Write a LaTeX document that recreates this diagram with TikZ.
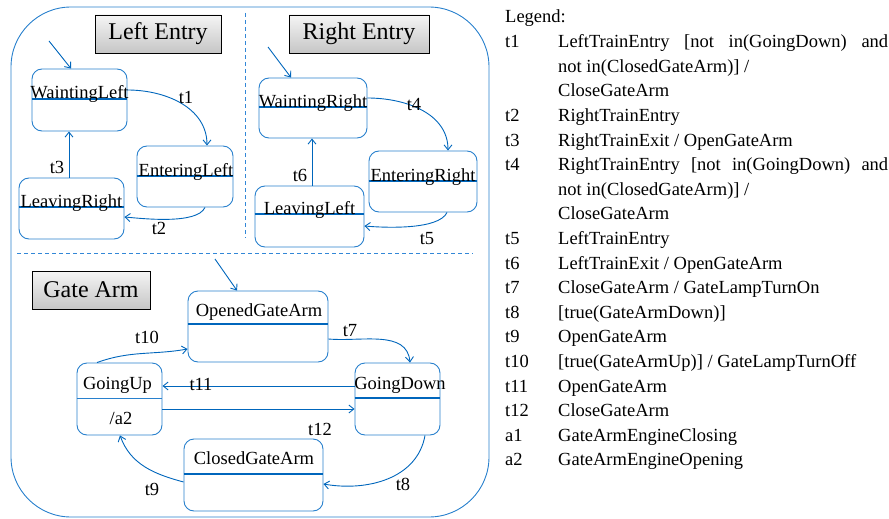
\documentclass[tikz,border=0pt]{standalone}
\usepackage{fontspec}
\setmainfont{Liberation Serif}
\usetikzlibrary{arrows.meta}

\definecolor{stateblue}{RGB}{40,128,205}
\definecolor{lineblue}{RGB}{0,102,188}
\definecolor{dashblue}{RGB}{50,135,215}

\tikzset{
    state/.style={draw=stateblue, line width=0.9pt, rounded corners=10pt, inner sep=0pt},
    statename/.style={anchor=base, inner sep=0pt, font=\fontsize{18.5}{22}\selectfont},
    divider/.style={draw=lineblue, line width=1.8pt},
    thindivider/.style={draw=stateblue, line width=0.8pt},
    trans/.style={draw=lineblue, line width=0.9pt, -{Straight Barb[length=5pt,width=8pt]}},
    tlabel/.style={inner sep=0pt, font=\fontsize{18.5}{22}\selectfont},
    region/.style={draw=black, line width=0.8pt, top color=gray!8, bottom color=gray!45, inner sep=0pt, font=\fontsize{24}{28}\selectfont},
    dashline/.style={draw=dashblue, line width=1pt, dash pattern=on 4pt off 3pt},
    legkey/.style={anchor=base west, inner sep=0pt, font=\fontsize{18.5}{22}\selectfont},
    legtext/.style={anchor=base west, inner sep=0pt, font=\fontsize{18.5}{22}\selectfont},
}

\begin{document}
\begin{tikzpicture}[x=1pt, y=1pt]
    \useasboundingbox (0,0) rectangle (889,-519);

    % outer state and its regions
    \node[draw=stateblue, line width=0.9pt, rounded corners=60pt, minimum width=478, minimum height=510, inner sep=0pt] (crossing) at (250,-262) {};
    \draw[dashline] (245,-13) -- (245,-238);
    \draw[dashline] (17,-253) -- (473,-253);

    \node[region, minimum width=126, minimum height=38] (lefttitle) at (158,-34) {Left Entry};
    \node[region, minimum width=140, minimum height=38] (righttitle) at (359,-34) {Right Entry};
    \node[region, minimum width=118, minimum height=38] (gatetitle) at (91,-290) {Gate Arm};

    % Left Entry
    \node[state, minimum width=95, minimum height=62] (wl) at (79.5,-100) {};
    \draw[divider] (wl.west |- 0,-99) -- (wl.east |- 0,-99);
    \node[statename] (wlt) at (79.5,-99) {WaintingLeft};

    \node[state, minimum width=96, minimum height=61] (el) at (185,-176.5) {};
    \draw[divider] (el.west |- 0,-176) -- (el.east |- 0,-176);
    \node[statename] (elt) at (186,-176) {EnteringLeft};

    \node[state, minimum width=105, minimum height=61] (lr) at (71.5,-208.5) {};
    \draw[divider] (lr.west |- 0,-207) -- (lr.east |- 0,-207);
    \node[statename] (lrt) at (71.5,-207) {LeavingRight};

    % Right Entry
    \node[state, minimum width=108, minimum height=60] (wr) at (313,-108) {};
    \draw[divider] (wr.west |- 0,-107) -- (wr.east |- 0,-107);
    \node[statename] (wrt) at (313,-107) {WaintingRight};

    \node[state, minimum width=108, minimum height=61] (er) at (423,-181.5) {};
    \draw[divider] (er.west |- 0,-181) -- (er.east |- 0,-181);
    \node[statename] (ert) at (423,-181) {EnteringRight};

    \node[state, minimum width=109, minimum height=61] (ll) at (309.5,-216.5) {};
    \draw[divider] (ll.west |- 0,-214) -- (ll.east |- 0,-214);
    \node[statename] (llt) at (309.5,-214) {LeavingLeft};

    % Gate Arm
    \node[state, minimum width=140, minimum height=71] (og) at (258,-326.5) {};
    \draw[divider] (og.west |- 0,-324) -- (og.east |- 0,-324);
    \node[statename] (ogt) at (259,-316) {OpenedGateArm};

    \node[state, minimum width=85, minimum height=72] (gu) at (119.5,-399) {};
    \draw[thindivider] (gu.west |- 0,-398) -- (gu.east |- 0,-398);
    \node[statename] (gut) at (117.5,-389) {GoingUp};
    \node[statename] (gua) at (121,-424) {/a2};

    \node[state, minimum width=85, minimum height=72] (gd) at (397.5,-399) {};
    \draw[divider] (gd.west |- 0,-398) -- (gd.east |- 0,-398);
    \node[statename] (gdt) at (400,-389) {GoingDown};

    \node[state, minimum width=139, minimum height=72] (cg) at (253.5,-475) {};
    \draw[divider] (cg.west |- 0,-474) -- (cg.east |- 0,-474);
    \node[statename] (cgt) at (254,-464) {ClosedGateArm};

    % initial transitions
    \coordinate (il) at (49,-41);
    \coordinate (ir) at (268,-47);
    \coordinate (ig) at (215,-259);
    \draw[trans] (il) -- ([xshift=-8.5pt]wl.north);
    \draw[trans] (ir) -- ([xshift=-22pt]wr.north);
    \draw[trans] (ig) -- ([xshift=-21pt]og.north);

    % transitions
    \draw[trans] ([yshift=10pt]wl.east) to[out=0,in=90] ([xshift=22pt]el.north);
    \draw[trans] ([xshift=20pt]el.south) to[out=-115,in=-5,looseness=0.6] ([yshift=-8.5pt]lr.east);
    \draw[trans] ([xshift=-2.5pt]lr.north) -- ([xshift=-10.5pt]wl.south);

    \draw[trans] ([yshift=10pt]wr.east) to[out=0,in=90] ([xshift=25pt]er.north);
    \draw[trans] ([xshift=24pt]er.south) to[out=-115,in=-5,looseness=0.6] ([yshift=-9.5pt]ll.east);
    \draw[trans] ([xshift=2.5pt]ll.north) -- ([xshift=-1pt]wr.south);

    \draw[trans] ([xshift=-22.5pt]gu.north) to[out=20,in=190] ([yshift=-22.5pt]og.west);
    \draw[trans] ([yshift=-12.5pt]og.east) to[out=-5,in=95] ([xshift=12.5pt]gd.north);
    \draw[trans] ([yshift=13pt]gd.west) -- ([yshift=13pt]gu.east);
    \draw[trans] ([yshift=-10pt]gu.east) -- ([yshift=-10pt]gd.west);
    \draw[trans] ([xshift=27.5pt]gd.south) to[out=-100,in=-10] ([yshift=-9pt]cg.east);
    \draw[trans] ([yshift=-7pt]cg.west) to[out=165,in=-70] ([xshift=0.5pt]gu.south);

    % transition labels
    \node[tlabel] (t1) at (186,-97) {t1};
    \node[tlabel] (t2) at (159,-228) {t2};
    \node[tlabel] (t3) at (57,-167) {t3};
    \node[tlabel] (t4) at (414,-105) {t4};
    \node[tlabel] (t5) at (427,-239) {t5};
    \node[tlabel] (t6) at (300,-175) {t6};
    \node[tlabel] (t7) at (350,-331) {t7};
    \node[tlabel] (t8) at (403,-484) {t8};
    \node[tlabel] (t9) at (152,-489) {t9};
    \node[tlabel] (t10) at (147,-337) {t10};
    \node[tlabel] (t11) at (201,-384) {t11};
    \node[tlabel] (t12) at (320,-429) {t12};

    % legend
    \node[legkey] (lg) at (505,-23) {Legend:};
    \node[legkey] (k1) at (505,-47.6) {t1};
    \node[legtext] (d1) at (558,-47.6) {\makebox[330pt][s]{LeftTrainEntry [not in(GoingDown) and}};
    \node[legtext] (d1b) at (558,-72.2) {not in(ClosedGateArm)] /};
    \node[legtext] (d1c) at (558,-96.8) {CloseGateArm};
    \node[legkey] (k2) at (505,-121.4) {t2};
    \node[legtext] (d2) at (558,-121.4) {RightTrainEntry};
    \node[legkey] (k3) at (505,-146) {t3};
    \node[legtext] (d3) at (558,-146) {RightTrainExit / OpenGateArm};
    \node[legkey] (k4) at (505,-170.6) {t4};
    \node[legtext] (d4) at (558,-170.6) {\makebox[330pt][s]{RightTrainEntry [not in(GoingDown) and}};
    \node[legtext] (d4b) at (558,-195.2) {not in(ClosedGateArm)] /};
    \node[legtext] (d4c) at (558,-219.8) {CloseGateArm};
    \node[legkey] (k5) at (505,-244.4) {t5};
    \node[legtext] (d5) at (558,-244.4) {LeftTrainEntry};
    \node[legkey] (k6) at (505,-269) {t6};
    \node[legtext] (d6) at (558,-269) {LeftTrainExit / OpenGateArm};
    \node[legkey] (k7) at (505,-293.6) {t7};
    \node[legtext] (d7) at (558,-293.6) {CloseGateArm / GateLampTurnOn};
    \node[legkey] (k8) at (505,-318.2) {t8};
    \node[legtext] (d8) at (558,-318.2) {[true(GateArmDown)]};
    \node[legkey] (k9) at (505,-342.8) {t9};
    \node[legtext] (d9) at (558,-342.8) {OpenGateArm};
    \node[legkey] (k10) at (505,-367.4) {t10};
    \node[legtext] (d10) at (558,-367.4) {[true(GateArmUp)] / GateLampTurnOff};
    \node[legkey] (k11) at (505,-392) {t11};
    \node[legtext] (d11) at (558,-392) {OpenGateArm};
    \node[legkey] (k12) at (505,-416.6) {t12};
    \node[legtext] (d12) at (558,-416.6) {CloseGateArm};
    \node[legkey] (a1) at (505,-441.2) {a1};
    \node[legtext] (e1) at (558,-441.2) {GateArmEngineClosing};
    \node[legkey] (a2) at (505,-465.8) {a2};
    \node[legtext] (e2) at (558,-465.8) {GateArmEngineOpening};
\end{tikzpicture}
\end{document}
